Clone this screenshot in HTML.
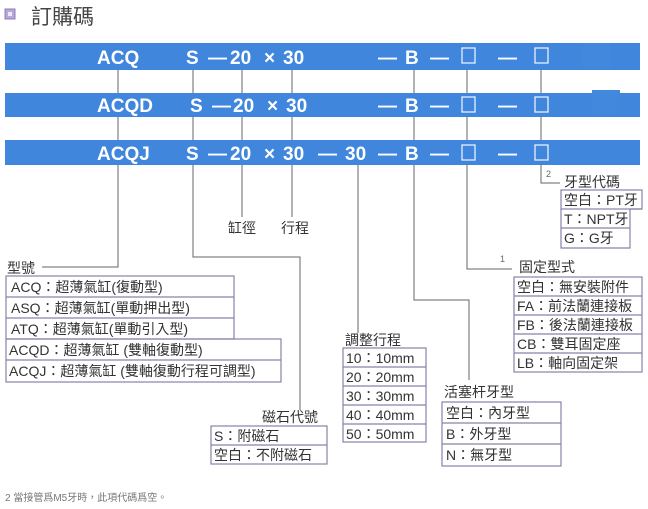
<!DOCTYPE html>
<html><head><meta charset="utf-8"><style>
html,body{margin:0;padding:0;background:#fff;}
svg{display:block;}
text{font-family:"Liberation Sans","Noto Sans CJK TC",sans-serif;}
.w{fill:#fff;font-weight:bold;font-size:19px;}
.t{fill:#333;font-size:14px;}
.b{fill:none;stroke:#8a80a8;stroke-width:1.2;}
.l{fill:none;stroke:#666;stroke-width:1;}
</style></head><body>
<svg width="648" height="509" viewBox="0 0 648 509">
<rect x="5" y="9" width="10" height="10" fill="#b7a8d8" stroke="#8c7cb8"/>
<rect x="8" y="12" width="4" height="4" fill="#efe8ff"/>
<text x="31" y="24" font-size="21" fill="#444">訂購碼</text>

<g class="l">
<path d="M118 70V267H42"/>
<path d="M193 70V257H300V410"/>
<path d="M242 70V217"/>
<path d="M292 70V217"/>
<path d="M358 165V333"/>
<path d="M414 70V300H469V380"/>
<path d="M467 70V269H512"/>
<path d="M541 70V183H560"/>
</g>

<rect x="5" y="43" width="635" height="27" fill="#3f86dc"/>
<rect x="5" y="93" width="635" height="24" fill="#3f86dc"/>
<rect x="5" y="140" width="635" height="25" fill="#3f86dc"/>
<rect x="583" y="43" width="27" height="25" fill="#4289dd"/>
<rect x="592" y="90" width="28" height="24" fill="#4289dd"/>

<g class="w">
<text x="97" y="64">ACQ</text>
<text x="186" y="64">S</text><text x="208" y="64">—</text><text x="230" y="64">20</text><text x="264" y="64">×</text><text x="283" y="64">30</text>
<text x="378" y="64">—</text><text x="405" y="64">B</text><text x="430" y="64">—</text>
<text x="498" y="64">—</text>

<text x="97" y="112">ACQD</text>
<text x="190" y="112">S</text><text x="212" y="112">—</text><text x="233" y="112">20</text><text x="267" y="112">×</text><text x="286" y="112">30</text>
<text x="378" y="112">—</text><text x="405" y="112">B</text><text x="430" y="112">—</text>
<text x="498" y="112">—</text>

<text x="97" y="160">ACQJ</text>
<text x="186" y="160">S</text><text x="208" y="160">—</text><text x="230" y="160">20</text><text x="264" y="160">×</text><text x="283" y="160">30</text>
<text x="318" y="160">—</text><text x="345" y="160">30</text><text x="378" y="160">—</text><text x="405" y="160">B</text><text x="430" y="160">—</text>
<text x="498" y="160">—</text>
</g>
<g fill="none" stroke="#e8f0ff" stroke-width="1.3">
<rect x="462" y="48" width="13" height="15"/><rect x="535" y="48" width="13" height="15"/>
<rect x="462" y="97" width="13" height="15"/><rect x="535" y="97" width="13" height="15"/>
<rect x="462" y="145" width="13" height="15"/><rect x="535" y="145" width="13" height="15"/>
</g>

<text class="t" x="228" y="233">缸徑</text>
<text class="t" x="281" y="233">行程</text>

<text class="t" x="7" y="273">型號</text>
<g class="b">
<rect x="6" y="276" width="228" height="63"/><path d="M6 297H234M6 318H234"/>
<rect x="6" y="339" width="275" height="43"/><path d="M6 360H281"/>
</g>
<g class="t">
<text x="11" y="292">ACQ：超薄氣缸(復動型)</text>
<text x="11" y="313">ASQ：超薄氣缸(單動押出型)</text>
<text x="11" y="334">ATQ：超薄氣缸(單動引入型)</text>
<text x="9" y="355">ACQD：超薄氣缸 (雙軸復動型)</text>
<text x="9" y="376">ACQJ：超薄氣缸 (雙軸復動行程可調型)</text>
</g>

<text class="t" x="262" y="422">磁石代號</text>
<g class="b"><rect x="211" y="426" width="116" height="38"/><path d="M211 445H327"/></g>
<g class="t"><text x="214" y="441">S：附磁石</text><text x="214" y="460">空白：不附磁石</text></g>

<text class="t" x="345" y="345">調整行程</text>
<g class="b"><rect x="343" y="348" width="83" height="94"/><path d="M343 367H426M343 386H426M343 405H426M343 424H426"/></g>
<g class="t">
<text x="346" y="363">10：10mm</text><text x="346" y="382">20：20mm</text><text x="346" y="401">30：30mm</text><text x="346" y="420">40：40mm</text><text x="346" y="439">50：50mm</text>
</g>

<text class="t" x="444" y="397">活塞杆牙型</text>
<g class="b"><rect x="442" y="402" width="119" height="64"/><path d="M442 423H561M442 444H561"/></g>
<g class="t"><text x="446" y="418">空白：內牙型</text><text x="446" y="439">B：外牙型</text><text x="446" y="460">N：無牙型</text></g>

<text x="500" y="262" font-size="9" fill="#666">1</text>
<text class="t" x="519" y="272">固定型式</text>
<g class="b"><rect x="514" y="277" width="128" height="95"/><path d="M514 296H642M514 315H642M514 334H642M514 353H642"/></g>
<g class="t">
<text x="517" y="292">空白：無安裝附件</text><text x="517" y="311">FA：前法蘭連接板</text><text x="517" y="330">FB：後法蘭連接板</text><text x="517" y="349">CB：雙耳固定座</text><text x="517" y="368">LB：軸向固定架</text>
</g>

<text x="546" y="177" font-size="9" fill="#666">2</text>
<text class="t" x="564" y="187">牙型代碼</text>
<g class="b"><rect x="561" y="190" width="81" height="19"/><path d="M561 209V248H630V209M630 209H642"/><path d="M561 228H630"/></g>
<g class="t"><text x="564" y="205">空白：PT牙</text><text x="564" y="224">T：NPT牙</text><text x="564" y="243">G：G牙</text></g>

<text x="5" y="501" font-size="10" fill="#777">2 當接管爲M5牙時，此項代碼爲空。</text>
</svg>
</body></html>
